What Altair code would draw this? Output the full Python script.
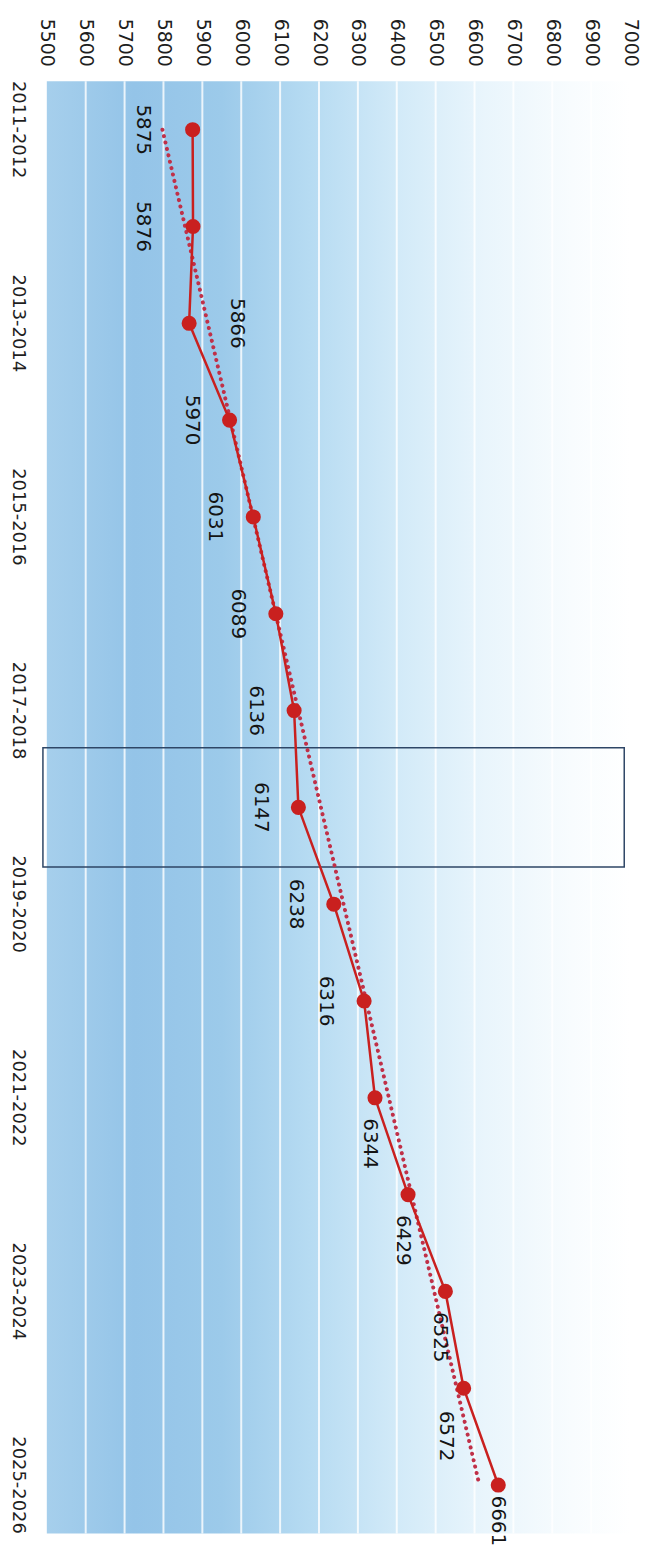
import altair as alt
import pandas as pd

CATEGORIES = ["2011-2012", "2012-2013", "2013-2014", "2014-2015", "2015-2016",
              "2016-2017", "2017-2018", "2018-2019", "2019-2020", "2020-2021",
              "2021-2022", "2022-2023", "2023-2024", "2024-2025", "2025-2026"]
VALUES = [5875, 5876, 5866, 5970, 6031, 6089, 6136, 6147, 6238, 6316,
          6344, 6429, 6525, 6572, 6661]
X_TICKS = [5500, 5600, 5700, 5800, 5900, 6000, 6100, 6200, 6300, 6400,
           6500, 6600, 6700, 6800, 6900, 7000]
Y_LABELS = ["2011-2012", "2013-2014", "2015-2016", "2017-2018",
            "2019-2020", "2021-2022", "2023-2024", "2025-2026"]
HIGHLIGHT_CAT = ["2018-2019"]
HIGHLIGHT_RANGE = [5490, 6985]

# label placement groups
LBL_LEFT_FAR = ["2011-2012", "2012-2013"]
LBL_LEFT = ["2014-2015", "2015-2016", "2016-2017", "2017-2018", "2018-2019",
            "2019-2020", "2020-2021"]
LBL_RIGHT = ["2013-2014"]
LBL_BELOW = ["2021-2022", "2022-2023", "2023-2024"]
LBL_BELOW_LEFT = ["2024-2025"]
LBL_BELOW_NEAR = ["2025-2026"]

W, H = 586, 1459
FONT = "DejaVu Sans"
RED = "#c9201f"

df = pd.DataFrame({"idx": list(range(len(CATEGORIES))), "cat": CATEGORIES, "value": VALUES})
grid_df = pd.DataFrame({"v": X_TICKS[1:-1]})
box_df = pd.DataFrame({"cat": HIGHLIGHT_CAT, "x0": [HIGHLIGHT_RANGE[0]], "x1": [HIGHLIGHT_RANGE[1]]})

xscale = alt.Scale(domain=[X_TICKS[0], X_TICKS[-1]], nice=False, zero=False)
yscale = alt.Scale(type="band", domain=CATEGORIES, paddingInner=0, paddingOuter=0)

xaxis = alt.Axis(orient="top", values=X_TICKS, format="d", grid=False, domain=False, ticks=False,
                 labelAngle=90, labelAlign="right", labelBaseline="middle",
                 labelPadding=15, labelFontSize=19, labelFont=FONT, labelColor="#1e1e1e",
                 labelOverlap=False, labelFlush=False, title=None)
yaxis = alt.Axis(values=Y_LABELS, grid=False, domain=False, ticks=False,
                 labelAngle=90, labelAlign="center", labelBaseline="middle",
                 labelPadding=29, labelFontSize=18, labelFont=FONT, labelColor="#1e1e1e",
                 labelOverlap=False, title=None)

X = alt.X("value:Q", scale=xscale, axis=xaxis)
Y = alt.Y("cat:N", scale=yscale, axis=yaxis, sort=CATEGORIES)

gradient = alt.LinearGradient(
    gradient="linear", x1=0, x2=1, y1=0, y2=0,
    stops=[
        alt.GradientStop(color="#a6cfec", offset=0.0),
        alt.GradientStop(color="#94c4e8", offset=0.15),
        alt.GradientStop(color="#9ccaea", offset=0.3),
        alt.GradientStop(color="#b6dbf2", offset=0.45),
        alt.GradientStop(color="#d2eaf8", offset=0.6),
        alt.GradientStop(color="#e9f5fc", offset=0.75),
        alt.GradientStop(color="#f8fcfe", offset=0.9),
        alt.GradientStop(color="#ffffff", offset=1.0),
    ])

bg = alt.Chart(alt.Data(values=[{"a": 1}])).mark_rect(fill=gradient).encode(
    x=alt.value(0), x2=alt.value("width"), y=alt.value(0), y2=alt.value("height"))

grid = alt.Chart(grid_df).mark_rule(color="white", strokeWidth=2, opacity=0.8).encode(
    x=alt.X("v:Q", scale=xscale, axis=xaxis))

trend = alt.Chart(df).transform_regression("idx", "value").transform_lookup(
    lookup="idx", from_=alt.LookupData(data=df, key="idx", fields=["cat"])
).mark_line(color="#c03048", strokeWidth=4, strokeDash=[0.1, 6.5], strokeCap="round").encode(
    x=X, y=Y)

line = alt.Chart(df).mark_line(color=RED, strokeWidth=2.5).encode(x=X, y=Y)
pts = alt.Chart(df).mark_circle(color=RED, size=230, opacity=1).encode(x=X, y=Y)

box = alt.Chart(box_df).mark_bar(size=120, fillOpacity=0, stroke="#2e4666", strokeWidth=1.5).encode(
    x=alt.X("x0:Q", scale=xscale, axis=xaxis), x2="x1:Q", y=Y)


def labels(group, dx, dy):
    return alt.Chart(df).transform_filter(
        alt.FieldOneOfPredicate(field="cat", oneOf=group)
    ).mark_text(angle=90, align="center", baseline="middle", font=FONT, fontSize=20,
                color="#141414", dx=dx, dy=dy).encode(x=X, y=Y, text=alt.Text("value:Q", format="d"))


chart = alt.layer(
    bg, grid, box, trend, line, pts,
    labels(LBL_LEFT_FAR, 0, 50),
    labels(LBL_LEFT, 0, 38),
    labels(LBL_RIGHT, 0, -48),
    labels(LBL_BELOW, 46, 5),
    labels(LBL_BELOW_LEFT, 48, 18),
    labels(LBL_BELOW_NEAR, 36, 0),
).properties(width=W, height=H,
             padding={"top": 6, "left": 0, "right": 6, "bottom": 0}).configure_view(stroke=None)

chart.save("out.html", embed_options={"renderer": "svg", "actions": False})
